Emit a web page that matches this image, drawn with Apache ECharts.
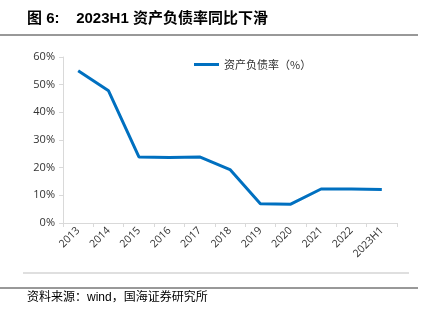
<!DOCTYPE html>
<html><head><meta charset="utf-8">
<script src="https://cdn.jsdelivr.net/npm/echarts@6/dist/echarts.min.js"></script>
<style>html,body{margin:0;padding:0;background:#fff}#c{width:428px;height:321px}</style>
</head><body><div id="c"></div>
<script>
var categories = ['2013','2014','2015','2016','2017','2018','2019','2020','2021','2022','2023H1'];
var debtRatio = [55.0, 47.8, 23.9, 23.7, 23.9, 19.3, 7.0, 6.8, 12.3, 12.3, 12.1];
var yTicks = [0, 10, 20, 30, 40, 50, 60];
var seriesName = '资产负债率（%）';
var titleText = '图 6:    2023H1 资产负债率同比下滑';
var sourceText = '资料来源：wind，国海证券研究所';

var chart = echarts.init(document.getElementById('c'), null, {renderer:'canvas'});
chart.setOption({
  animation:false,
  backgroundColor:'#fff',
  grid:{left:63, right:31, top:57, bottom:98},
  legend:{
    data:[seriesName], left:189, top:54, itemWidth:25, itemHeight:3, itemGap:4,
    icon:'rect',
    textStyle:{fontSize:11, color:'#333', fontFamily:'Noto Sans CJK SC, sans-serif'}
  },
  xAxis:{
    type:'category', data:categories, boundaryGap:true,
    axisLine:{lineStyle:{color:'#d9d9d9'}},
    axisTick:{show:true, lineStyle:{color:'#d9d9d9'}, length:4},
    axisLabel:{rotate:45, fontSize:10.5, color:'#333', margin:6, interval:0, fontFamily:'Open Sans, sans-serif'}
  },
  yAxis:{
    type:'value', min:yTicks[0], max:yTicks[yTicks.length-1], interval:10,
    axisLine:{show:true, lineStyle:{color:'#d9d9d9'}},
    axisTick:{show:true, lineStyle:{color:'#d9d9d9'}, length:4},
    splitLine:{show:false},
    axisLabel:{formatter:'{value}%', fontSize:11, color:'#333', margin:8, fontFamily:'Open Sans, sans-serif'}
  },
  series:[{
    name:seriesName, type:'line', data:debtRatio, symbol:'none',
    lineStyle:{color:'#0070c0', width:3}, itemStyle:{color:'#0070c0'}
  }],
  graphic:[
    {type:'text', left:27, top:11, style:{text:titleText, font:'bold 15px "Liberation Sans", "Noto Sans CJK SC", sans-serif', fill:'#000'}},
    {type:'line', shape:{x1:0, y1:35, x2:418, y2:35}, style:{stroke:'#333', lineWidth:1}},
    {type:'line', shape:{x1:23, y1:273, x2:409, y2:273}, style:{stroke:'#bfbfbf', lineWidth:1}},
    {type:'line', shape:{x1:0, y1:288, x2:418, y2:288}, style:{stroke:'#333', lineWidth:1}},
    {type:'text', left:27, top:292, style:{text:sourceText, font:'12px "Liberation Sans", "Noto Sans CJK SC", sans-serif', fill:'#000'}}
  ]
});
</script></body></html>
